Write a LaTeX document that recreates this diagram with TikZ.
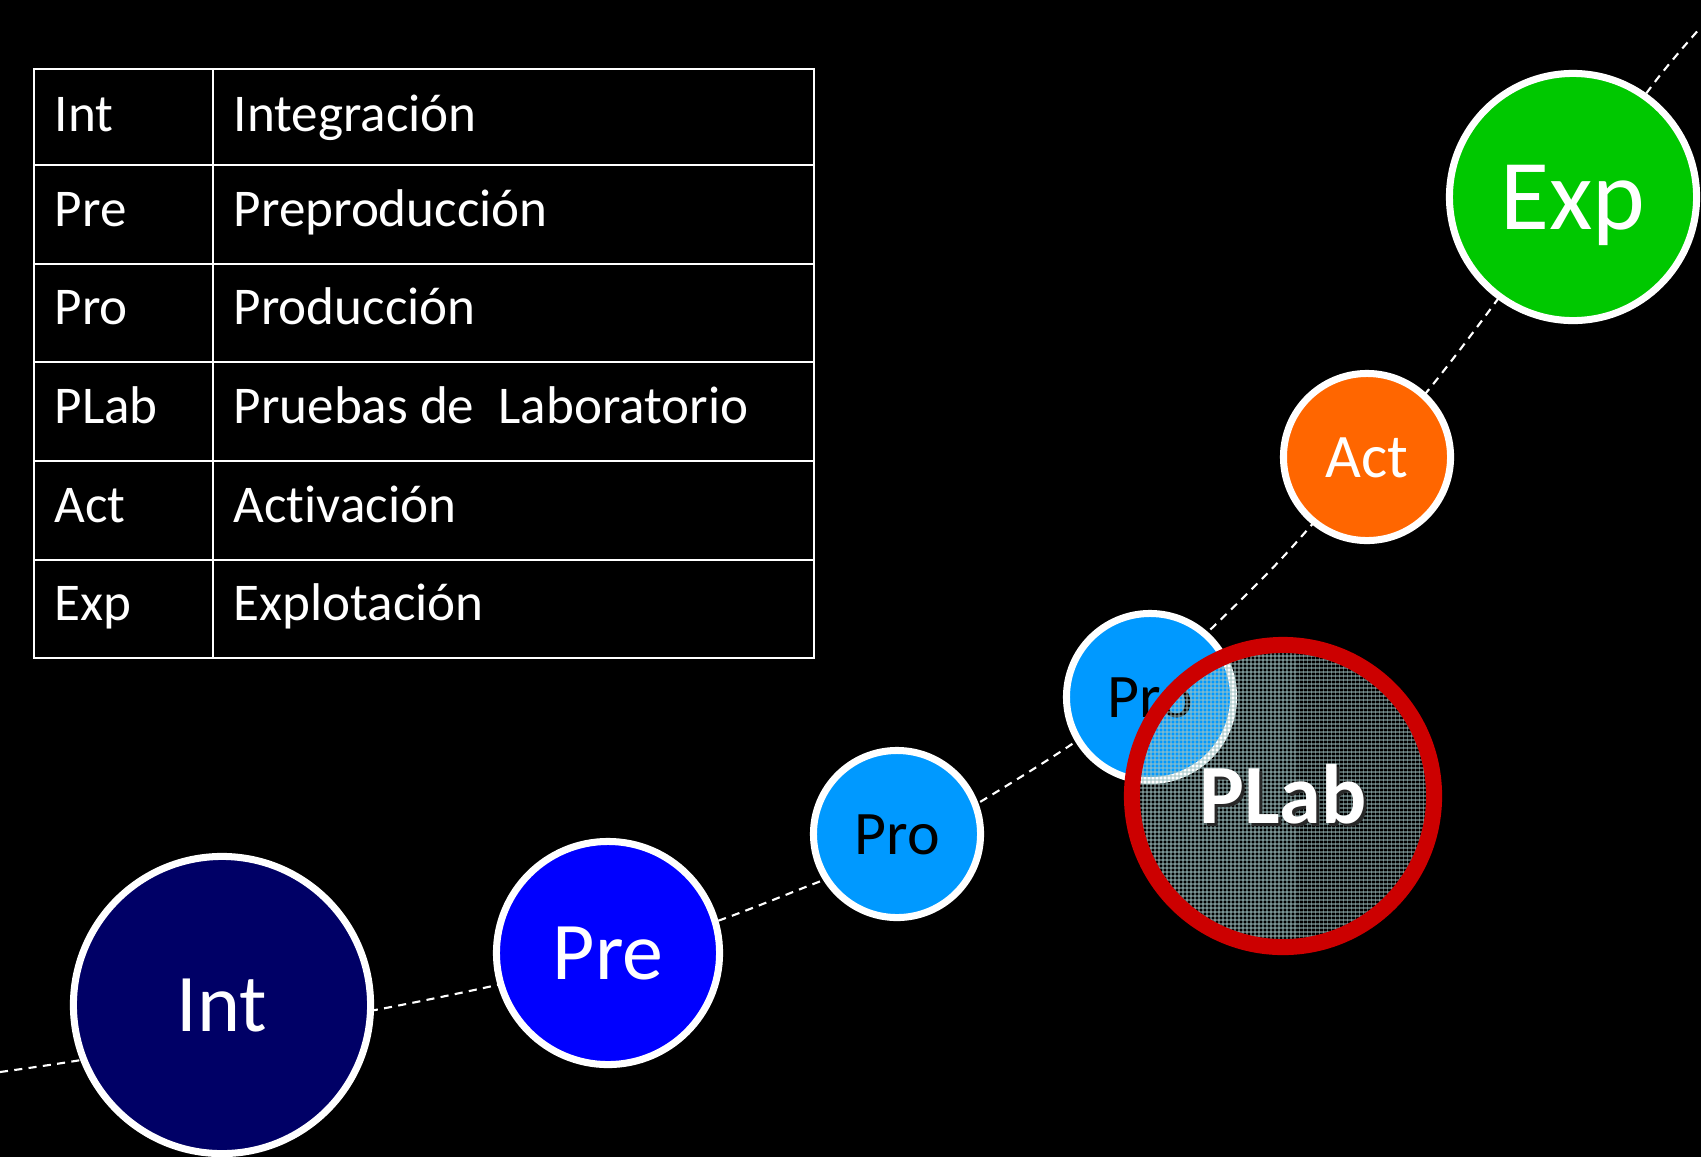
\documentclass[tikz,border=0pt]{standalone}
\usepackage{fontspec}
\setmainfont{Carlito}[Ligatures={NoCommon}]
\usetikzlibrary{calc}
\definecolor{intc}{RGB}{0,0,102}
\definecolor{prec}{RGB}{0,0,255}
\definecolor{proc}{RGB}{0,153,255}
\definecolor{actc}{RGB}{255,102,0}
\definecolor{expc}{RGB}{0,200,0}
\definecolor{labred}{RGB}{204,0,0}
\definecolor{gridc}{RGB}{160,195,195}
\definecolor{shadowc}{RGB}{40,40,40}
\begin{document}
\begin{tikzpicture}[x=0.01cm,y=-0.01cm,
  bubble/.style={circle, draw=white, line width=2pt, inner sep=0pt, text=white},
  bigtext/.style={font=\fontsize{23.3}{28}\selectfont, text height=0.53cm, text depth=0pt},
  smalltext/.style={font=\fontsize{17.6}{21}\selectfont, text height=0.40cm, text depth=0pt},
  cell/.style={anchor=base west, inner sep=0pt, text=white, font=\fontsize{15.1}{18}\selectfont},
  tline/.style={draw=white, line width=0.75pt},
  trail/.style={draw=white, line width=0.6pt, dash pattern=on 2.3pt off 1.8pt},
  labtext/.style={font=\bfseries\fontsize{24}{29}\selectfont, text height=0.54cm, text depth=0pt, inner sep=0pt},
  gridline/.style={draw=gridc, line width=0.3pt, draw opacity=0.5}]
\fill[black] (0,0) rectangle (1701,1157);
\useasboundingbox (0,0) rectangle (1701,1157);

% table
\draw[tline] (34,69) rectangle (814,658);
\draw[tline] (213,69) -- (213,658);
\foreach \yy in {165,264,362,461,560} \draw[tline] (34,\yy) -- (814,\yy);
\node[cell] (k1) at (54,131) {Int};  \node[cell] (v1) at (233,131) {Integración};
\node[cell] (k2) at (54,226) {Pre};  \node[cell] (v2) at (233,226) {Preproducción};
\node[cell] (k3) at (54,324) {Pro};  \node[cell] (v3) at (233,324) {Producción};
\node[cell] (k4) at (54,423) {PLab}; \node[cell] (v4) at (233,423) {Pruebas de\ \ Laboratorio};
\node[cell] (k5) at (54,522) {Act};  \node[cell] (v5) at (233,522) {Activación};
\node[cell] (k6) at (54,620) {Exp};  \node[cell] (v6) at (233,620) {Explotación};

% dashed trail
\coordinate (cs) at (0,1072);
\coordinate (ce) at (1701,27);
\draw[trail] plot[smooth, tension=0.5] coordinates {(cs) (75,1061) (222,1036) (375,1010) (497,985) (608,958) (723,919) (803,888) (897,850) (980,802) (1075,742) (1150,685) (1213,627) (1283,557) (1367,461) (1430,388) (1492,307) (1573,195) (1654,83) (ce)};

% bubbles
\node[bubble, bigtext, fill=intc, minimum size=2.97cm] (Int) at (222,1005) {Int};
\node[bubble, bigtext, fill=prec, minimum size=2.23cm] (Pre) at (608,953) {Pre};
\node[bubble, smalltext, fill=proc, text=black, minimum size=1.67cm] (ProA) at (897,834) {Pro};
\node[bubble, smalltext, fill=actc, minimum size=1.67cm] (Act) at (1367,457) {Act};
\node[bubble, fill=expc, minimum size=2.47cm, font=\fontsize{28.5}{34}\selectfont, text height=0.64cm, text depth=0pt] (Exp) at (1573,197) {Exp};
\node[bubble, smalltext, fill=proc, text=black, minimum size=1.67cm] (ProB) at (1150,697) {Pro};

% PLab
\coordinate (labc) at (1283,796);
\begin{scope}
\clip (labc) circle [radius=144];
\foreach \d in {-148,-144,...,148} {
  \draw[gridline] ($(labc)+(\d,-150)$) -- ($(labc)+(\d,150)$);
  \draw[gridline] ($(labc)+(-150,\d)$) -- ($(labc)+(150,\d)$);
}
\end{scope}
\node[labtext, text=shadowc] (labshadow) at ($(labc)+(3,3)$) {PLab};
\node[circle, draw=labred, line width=4.55pt, minimum size=3.02cm, text=white, labtext] (PLab) at (labc) {PLab};
\end{tikzpicture}
\end{document}
